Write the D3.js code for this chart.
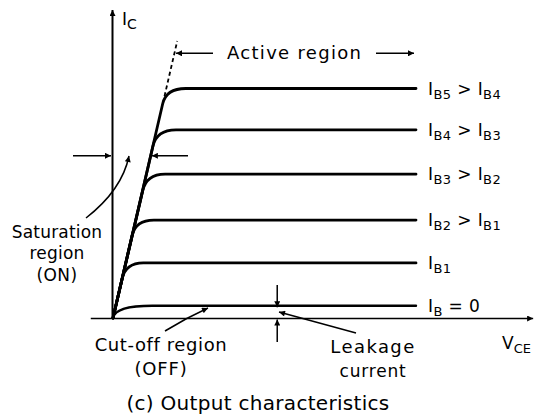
<!DOCTYPE html>
<html><head><meta charset="utf-8">
<script src="https://cdn.jsdelivr.net/npm/d3@7"></script>
<style>
body{margin:0;background:#fff}
svg text{font-family:"DejaVu Sans",sans-serif;fill:#000}
</style>
</head><body>
<svg id="chart" width="536" height="419"></svg>
<script>
// ---- data (VCE, IC in arbitrary units) ----
// each curve: start, end of straight part, knee (bend control), start of plateau, end
const curveNames = ["IB5", "IB4", "IB3", "IB2", "IB1", "IB0"];
const plateauIC = [7.5, 6.15, 4.7, 3.2, 1.8, 0.4];
const curveIB5 = [[0,0],[1.64,7.0],[1.755,7.5],[2.4,7.5],[10,7.5]];
const curveIB4 = [[0,0],[1.32,5.62],[1.44,6.15],[2.08,6.15],[10,6.15]];
const curveIB3 = [[0,0],[0.98,4.15],[1.1,4.7],[1.72,4.7],[10,4.7]];
const curveIB2 = [[0,0],[0.63,2.7],[0.75,3.2],[1.35,3.2],[10,3.2]];
const curveIB1 = [[0,0],[0.3,1.28],[0.42,1.8],[1.0,1.8],[10,1.8]];
const curveIB0 = [[0,0],[0.0,0.0],[0.07,0.4],[1.3,0.4],[10,0.4]];
const saturationExtension = [[1.70,7.25],[2.12,9.05]];
const curveLabels = [
  [["I",0],["B5",1],[" > ",0],["I",0],["B4",1]],
  [["I",0],["B4",1],[" > ",0],["I",0],["B3",1]],
  [["I",0],["B3",1],[" > ",0],["I",0],["B2",1]],
  [["I",0],["B2",1],[" > ",0],["I",0],["B1",1]],
  [["I",0],["B1",1]],
  [["I",0],["B",1],[" = 0",0]]
];
const yAxisLabel = [["I",0],["C",1]];
const xAxisLabel = [["V",0],["CE",1]];
const titleText = "(c) Output characteristics";

const curves = [curveIB5, curveIB4, curveIB3, curveIB2, curveIB1, curveIB0];

// ---- scales ----
const x = d3.scaleLinear().domain([0, 10]).range([113, 416]);
const y = d3.scaleLinear().domain([0, 10]).range([318, 12]);

const svg = d3.select("#chart");
const defs = svg.append("defs");
defs.append("marker").attr("id","ah")
  .attr("viewBox","0 0 10 10").attr("refX",10).attr("refY",5)
  .attr("markerWidth",10).attr("markerHeight",6)
  .attr("markerUnits","userSpaceOnUse").attr("orient","auto")
  .append("path").attr("d","M0,0L10,5L0,10z").attr("fill","#000");

// ---- axes ----
const xAxisScale = d3.scaleLinear().domain([-0.75, 13.85]).range([x(-0.75), x(13.85)]);
const yAxisScale = d3.scaleLinear().domain([0, 10.08]).range([y(0), y(10.08)]);
svg.append("g").attr("transform",`translate(0,${y(0)})`)
  .call(d3.axisBottom(xAxisScale).tickValues([]).tickSizeOuter(0))
  .select(".domain").attr("stroke","#000").attr("stroke-width",1.4).attr("marker-end","url(#ah)");
svg.append("g").attr("transform",`translate(${x(0)-1},0)`)
  .call(d3.axisLeft(yAxisScale).tickValues([]).tickSizeOuter(0))
  .select(".domain").attr("stroke","#000").attr("stroke-width",2).attr("marker-end","url(#ah)");

// ---- curves: straight rise, quadratic knee, flat plateau ----
function curvePath(pts){
  const p = d3.path();
  const P = pts.map(d => [x(d[0]), y(d[1])]);
  p.moveTo(P[0][0], P[0][1]);
  p.lineTo(P[1][0], P[1][1]);
  p.quadraticCurveTo(P[2][0], P[2][1], P[3][0], P[3][1]);
  p.lineTo(P[4][0], P[4][1]);
  return p.toString();
}
svg.append("g").selectAll("path").data(curves).join("path")
  .attr("d", curvePath).attr("fill","none").attr("stroke","#000")
  .attr("stroke-width",(d,i)=> i===5 ? 2.4 : 2.8).attr("stroke-linecap","round")
  .attr("stroke-linejoin","round");

svg.append("path").attr("d", d3.line().x(d=>x(d[0])).y(d=>y(d[1]))(saturationExtension))
  .attr("stroke","#000").attr("stroke-width",1.8).attr("stroke-dasharray","4,3").attr("fill","none");

// ---- rich text helper ----
function rich(g, parts, px, py, size, subSize, anchor) {
  const t = g.append("text").attr("x",px).attr("y",py).attr("font-size",size)
    .attr("text-anchor",anchor||"start");
  parts.forEach(([s, sub], i) => {
    const prevSub = i>0 ? parts[i-1][1] : 0;
    const dy = sub && !prevSub ? 4 : (!sub && prevSub ? -4 : 0);
    t.append("tspan").attr("dy",dy).attr("font-size", sub ? subSize : size)
      .style("white-space","pre").text(s);
  });
  return t;
}

// curve labels
curveLabels.forEach((parts,i)=>{
  rich(svg, parts, 428, y(plateauIC[i]) + 6, 17, 13).attr("letter-spacing",0.4);
});
rich(svg, yAxisLabel, 122, 25, 17, 14);
rich(svg, xAxisLabel, 502, 349, 17, 13);

// ---- annotations ----
const ann = svg.append("g").attr("stroke","#000").attr("fill","none");
function arrow(x1,y1,x2,y2,w){
  ann.append("line").attr("x1",x1).attr("y1",y1).attr("x2",x2).attr("y2",y2)
    .attr("stroke-width",w||1.5).attr("marker-end","url(#ah)");
}
function label(txt, px, py, size, ls){
  return svg.append("text").attr("x",px).attr("y",py).attr("font-size",size)
    .attr("text-anchor","middle").attr("letter-spacing",ls||0).text(txt);
}
// Active region
const activeIC = 8.65;
arrow(213, y(activeIC), x(2.08), y(activeIC));
arrow(376, y(activeIC), 414, y(activeIC));
svg.append("text").attr("x",227).attr("y",y(activeIC)+6).attr("font-size",18)
  .attr("letter-spacing",1.3).text("Active region");

// Saturation width arrows
const satIC = 5.3;
arrow(73, y(satIC), x(0)-2, y(satIC));
arrow(188, y(satIC), x(1.25)+1, y(satIC));
ann.append("path").attr("d","M86,218 Q122,190 129,156").attr("stroke-width",1.5).attr("marker-end","url(#ah)");
label("Saturation", 57, 238, 17, 0.2);
label("region", 57, 259, 17, 0.2);
label("(ON)", 57, 281, 17, 0.4);

// Cut-off
ann.append("path").attr("d","M165,331 Q186,318 208,308").attr("stroke-width",1.5).attr("marker-end","url(#ah)");
label("Cut-off region", 161, 351, 18, 0.6);
label("(OFF)", 161, 375, 18, 0.8);

// Leakage
const leakV = 5.42;
arrow(x(leakV), 285, x(leakV), y(0.4)+1.5);
arrow(x(leakV), 342, x(leakV), y(0)+1.5);
ann.append("line").attr("x1",356).attr("y1",333).attr("x2",279).attr("y2",312)
  .attr("stroke-width",1.4).attr("marker-end","url(#ah)");
label("Leakage", 373, 353, 18, 1.4);
label("current", 373, 377, 17, 0.8);

// Title
label(titleText, 258, 410, 20, 0.3);
</script>
</body></html>
